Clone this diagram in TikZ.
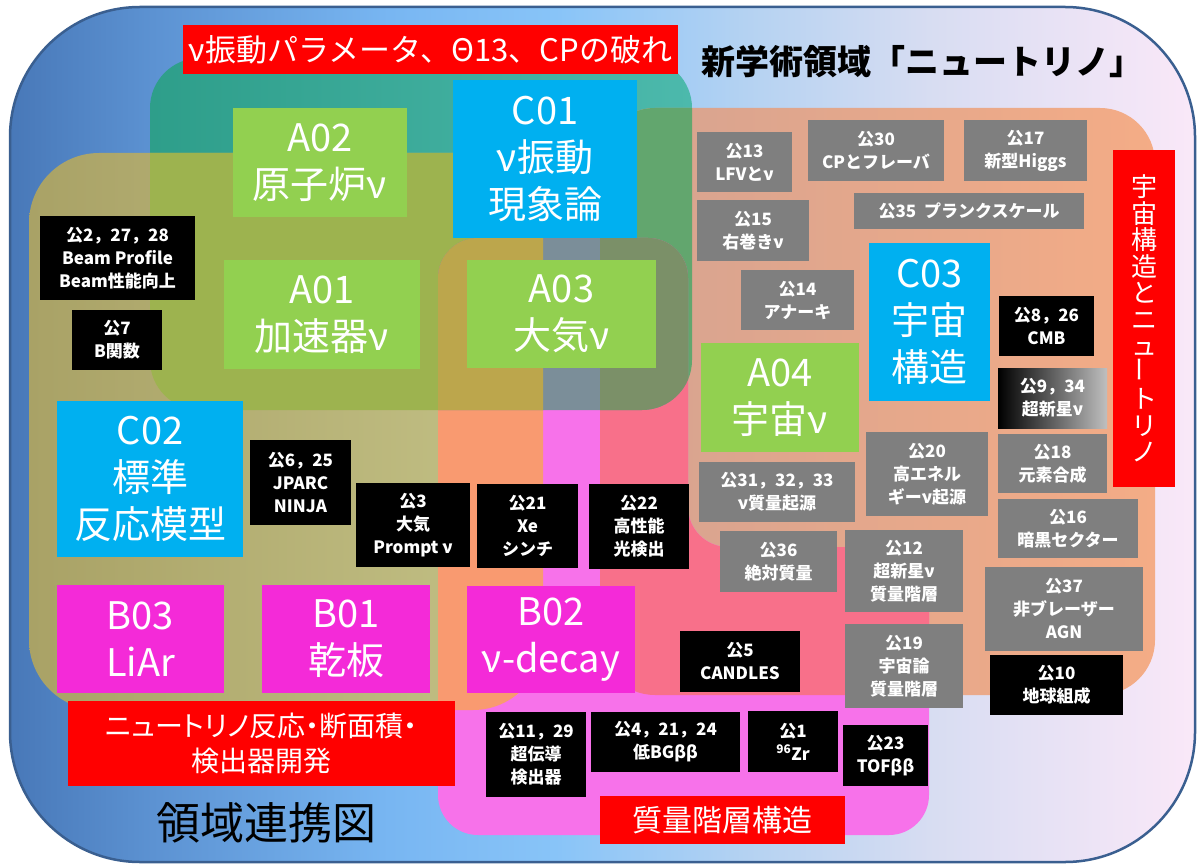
\documentclass[tikz,border=0pt]{standalone}
\usepackage{fontspec}
\setmainfont{Noto Sans CJK JP}
\definecolor{bgL}{HTML}{4878B8}
\definecolor{bgA}{HTML}{5C92D2}
\definecolor{bgB}{HTML}{78B6F2}
\definecolor{bgM}{HTML}{88C4F8}
\definecolor{bgC}{HTML}{B4D2F2}
\definecolor{bgD}{HTML}{D8DDF2}
\definecolor{bgR}{HTML}{FAE8F8}
\definecolor{bgBorder}{HTML}{3A5F90}
\definecolor{tealL}{HTML}{2E9E8A}
\definecolor{tealR}{HTML}{4CB9AC}
\definecolor{olL}{HTML}{A9A266}
\definecolor{olR}{HTML}{C4C287}
\definecolor{peL}{HTML}{D5A391}
\definecolor{peR}{HTML}{F4AC86}
\definecolor{pinkA}{HTML}{F772EA}
\definecolor{olTeal}{HTML}{9DB34F}
\definecolor{tePe}{HTML}{62A66E}
\definecolor{pkOl}{HTML}{F99A70}
\definecolor{pkPe}{HTML}{F8708A}
\definecolor{pkTe}{HTML}{7B8E99}
\definecolor{pkTeOl}{HTML}{BCA64C}
\definecolor{pkTePe}{HTML}{7B9068}
\definecolor{boxGreen}{HTML}{92D050}
\definecolor{boxBlue}{HTML}{00B0F0}
\definecolor{boxMag}{HTML}{F42AD8}
\definecolor{boxGray}{HTML}{7F7F7F}
\definecolor{boxRed}{HTML}{FF0000}
\pgfdeclarehorizontalshading{bgshade}{100bp}{color(0bp)=(bgL); color(25bp)=(bgL); color(31bp)=(bgA); color(41bp)=(bgB); color(48bp)=(bgM); color(56bp)=(bgC); color(64bp)=(bgD); color(75bp)=(bgR); color(100bp)=(bgR)}
\newcommand{\mkbox}[7]{\node[#1, minimum width={(#4-#2)*1pt}, minimum height={(#5-#3)*1pt}] (#6) at ({(#2+#4)/2},{(#3+#5)/2}) {#7};}
\begin{document}
\begin{tikzpicture}[x=1pt,y=-1pt,
  big/.style={inner sep=0pt, align=center, text=white, font=\fontsize{38}{47}\selectfont},
  gbox/.style={big, fill=boxGreen},
  cbox/.style={big, fill=boxBlue},
  bbox/.style={big, fill=boxMag},
  sm/.style={inner sep=0pt, align=center, text=white, font=\bfseries\fontsize{17}{23}\selectfont},
  kbox/.style={sm, fill=black},
  ybox/.style={sm, fill=boxGray},
  lbl/.style={inner sep=0pt, align=center, text=white, fill=boxRed},
]
\useasboundingbox (0,0) rectangle (1198,866);
% background
\path[rounded corners=130pt, shading=bgshade, draw=bgBorder, line width=2.5pt] (10,7) rectangle (1195,862);
% regions
\path[rounded corners=50pt, left color=tealL, right color=tealR] (150,58) rectangle (692,410);
\path[rounded corners=70pt, left color=olL, right color=olR] (29,153) rectangle (543,710);
\path[rounded corners=55pt, left color=peL, right color=peR] (600,108) rectangle (1155,695);
\fill[pinkA, rounded corners=40pt] (438,600) -- (438,238) -- (688,238) -- (688,547) -- (929,547) -- (929,835) -- (438,835) -- cycle;
% overlaps
\begin{scope}
  \clip[rounded corners=70pt] (29,153) rectangle (543,710);
  \fill[olTeal, rounded corners=50pt] (150,58) rectangle (692,410);
\end{scope}
\begin{scope}
  \clip[rounded corners=55pt] (600,108) rectangle (1155,695);
  \fill[tePe, rounded corners=50pt] (150,58) rectangle (692,410);
\end{scope}
\begin{scope}
  \clip[rounded corners=40pt] (438,600) -- (438,238) -- (688,238) -- (688,547) -- (929,547) -- (929,835) -- (438,835) -- cycle;
  \fill[pkOl, rounded corners=70pt] (29,153) rectangle (543,710);
  \fill[pkPe, rounded corners=55pt] (600,108) rectangle (1155,695);
  \fill[pkTe, rounded corners=50pt] (150,58) rectangle (692,410);
  \begin{scope}
    \clip[rounded corners=50pt] (150,58) rectangle (692,410);
    \fill[pkTeOl, rounded corners=70pt] (29,153) rectangle (543,710);
    \fill[pkTePe, rounded corners=55pt] (600,108) rectangle (1155,695);
  \end{scope}
\end{scope}
% titles and labels
\mkbox{lbl, font=\fontsize{31}{36}\selectfont}{183}{25}{678}{74}{t1}{ν振動パラメータ、Θ13、CPの破れ}
\node[font=\bfseries\fontsize{34}{40}\selectfont, inner sep=0pt] (t2) at (922,62) {新学術領域「ニュートリノ」};
\mkbox{lbl, font=\fontsize{26}{26.5}\selectfont}{1113}{150}{1175}{487}{t3}{宇\\宙\\構\\造\\と\\ニ\\ュ\\\rotatebox{90}{ー}\\ト\\リ\\ノ}
\mkbox{lbl, font=\addfontfeatures{RawFeature=+palt}\fontsize{28}{35}\selectfont}{68}{701}{455}{786}{t4}{ニュートリノ反応・断面積・\\検出器開発}
\mkbox{lbl, font=\fontsize{30}{36}\selectfont}{600}{796}{845}{844}{t5}{質量階層構造}
\node[font=\fontsize{44}{50}\selectfont, inner sep=0pt] (t6) at (266,823) {領域連携図};
% big boxes
\mkbox{gbox}{233}{108}{407}{217}{A02}{A02\\原子炉ν}
\mkbox{cbox}{453}{80}{637}{238}{C01}{C01\\ν振動\\現象論}
\mkbox{gbox}{224}{260}{420}{369}{A01}{A01\\加速器ν}
\mkbox{gbox}{467}{260}{656}{368}{A03}{A03\\大気ν}
\mkbox{gbox}{701}{343}{859}{452}{A04}{A04\\宇宙ν}
\mkbox{cbox}{869}{243}{990}{401}{C03}{C03\\宇宙\\構造}
\mkbox{cbox}{57}{401}{243}{557}{C02}{C02\\標準\\反応模型}
\mkbox{bbox}{57}{585}{224}{693}{B03}{B03\\LiAr}
\mkbox{bbox}{262}{585}{430}{693}{B01}{B01\\乾板}
\mkbox{bbox}{467}{586}{635}{693}{B02}{B02\\ν-decay}
% black boxes
\mkbox{kbox}{40}{216}{195}{300}{k1}{公2，27，28\\Beam Profile\\Beam性能向上}
\mkbox{kbox}{72}{310}{162}{370}{k2}{公7\\B関数}
\mkbox{kbox}{250}{440}{351}{525}{k3}{公6，25\\JPARC\\NINJA}
\mkbox{kbox}{356}{483}{470}{567}{k4}{公3\\大気\\Prompt ν}
\mkbox{kbox}{477}{484}{578}{568}{k5}{公21\\Xe\\シンチ}
\mkbox{kbox}{589}{484}{689}{569}{k6}{公22\\高性能\\光検出}
\mkbox{kbox}{486}{712}{586}{797}{k7}{公11，29\\超伝導\\検出器}
\mkbox{kbox}{591}{712}{740}{772}{k8}{公4，21，24\\低BGββ}
\mkbox{kbox}{748}{711}{838}{772}{k9}{公1\\\textsuperscript{96}Zr}
\mkbox{kbox}{843}{725}{928}{786}{k10}{公23\\TOFββ}
\mkbox{kbox}{680}{631}{800}{692}{k11}{公5\\CANDLES}
\mkbox{kbox}{990}{655}{1123}{715}{k12}{公10\\地球組成}
\mkbox{kbox}{999}{296}{1094}{356}{k13}{公8，26\\CMB}
\mkbox{sm, left color=black, middle color=black!85, right color=black!25}{998}{368}{1107}{428}{k14}{公9，34\\超新星ν}
% gray boxes
\mkbox{ybox}{697}{132}{792}{192}{g1}{公13\\LFVとν}
\mkbox{ybox}{808}{120}{944}{181}{g2}{公30\\CPとフレーバ}
\mkbox{ybox}{964}{120}{1087}{181}{g3}{公17\\新型Higgs}
\mkbox{ybox}{854}{193}{1084}{229}{g4}{公35\ \ プランクスケール}
\mkbox{ybox}{697}{200}{809}{261}{g5}{公15\\右巻きν}
\mkbox{ybox}{741}{270}{854}{330}{g6}{公14\\アナーキ}
\mkbox{ybox}{699}{462}{855}{522}{g7}{公31，32，33\\ν質量起源}
\mkbox{ybox}{866}{432}{988}{516}{g8}{公20\\高エネル\\ギーν起源}
\mkbox{ybox}{998}{434}{1107}{493}{g9}{公18\\元素合成}
\mkbox{ybox}{998}{499}{1138}{558}{g10}{公16\\暗黒セクター}
\mkbox{ybox}{720}{531}{837}{592}{g11}{公36\\絶対質量}
\mkbox{ybox}{845}{530}{963}{612}{g12}{公12\\超新星ν\\質量階層}
\mkbox{ybox}{845}{624}{963}{708}{g13}{公19\\宇宙論\\質量階層}
\mkbox{ybox}{985}{567}{1143}{651}{g14}{公37\\非ブレーザー\\AGN}
\end{tikzpicture}
\end{document}
